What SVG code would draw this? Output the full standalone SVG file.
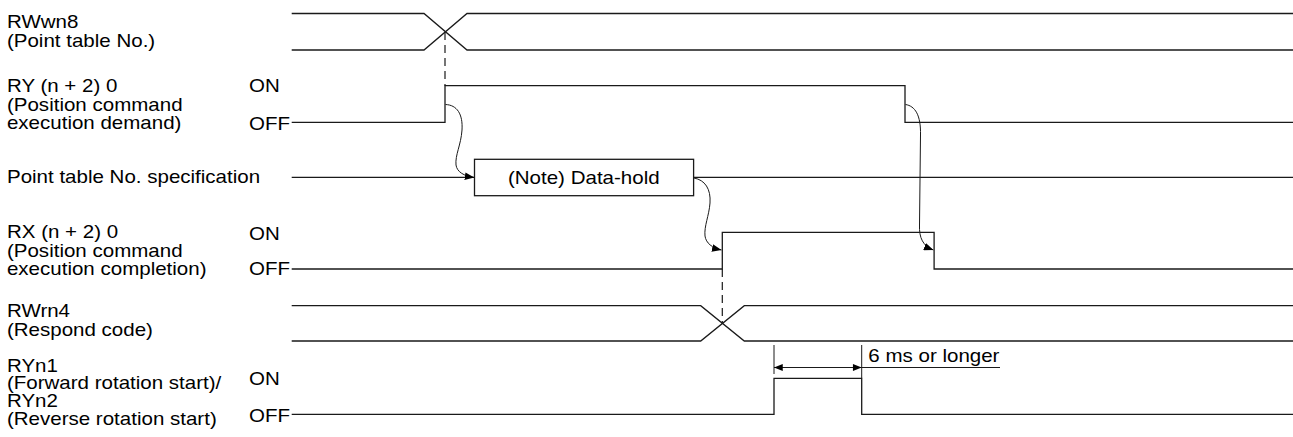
<svg xmlns="http://www.w3.org/2000/svg" width="1293" height="437" viewBox="0 0 1293 437">
<style>
.w{fill:none;stroke:#1a1a1a;stroke-width:1.3}
.d{fill:none;stroke:#1a1a1a;stroke-width:1.2;stroke-dasharray:8 5}
.c{fill:none;stroke:#1a1a1a;stroke-width:1}
.t{font-family:"Liberation Sans",Arial,sans-serif;font-size:18px;fill:#000}
</style>
<defs>
<marker id="ah" viewBox="0 0 10 8" refX="10" refY="4" markerWidth="9.5" markerHeight="8" markerUnits="userSpaceOnUse" orient="auto">
<path d="M0,0 L10,4 L0,8 Z" fill="#000"/>
</marker>
<marker id="dh" viewBox="0 0 10 8" refX="10" refY="4" markerWidth="10" markerHeight="7" markerUnits="userSpaceOnUse" orient="auto-start-reverse">
<path d="M0,0 L10,4 L0,8 Z" fill="#000"/>
</marker>
</defs>
<rect width="1293" height="437" fill="#fff"/>

<g id="rwwn8">
<path class="w" d="M291.7,13.5 H424 L467,50 H1293"/>
<path class="w" d="M291.7,50 H424 L467,13.5 H1293"/>
<g transform="scale(1.14 1)"><text class="t" x="6.1" y="28.3">RWwn8</text><text class="t" x="6.1" y="47">(Point table No.)</text></g>
</g>

<g id="ry-n2-0">
<path class="w" d="M291.7,122.3 H445 V85.7 H905 V122.3 H1293"/>
<g transform="scale(1.14 1)">
<text class="t" x="6.1" y="92.3">RY (n + 2) 0</text>
<text class="t" x="6.1" y="110.6">(Position command</text>
<text class="t" x="6.1" y="129.2">execution demand)</text>
<text class="t" x="218.4" y="92.5">ON</text>
<text class="t" x="218.4" y="130">OFF</text>
</g>
</g>

<g id="point-table-spec">
<path class="w" d="M291.7,177.3 H474.5 M693.6,177.3 H1293"/>
<rect class="w" x="474.5" y="159.3" width="219.1" height="36.4"/>
<g transform="scale(1.14 1)">
<text class="t" x="6.1" y="183.3">Point table No. specification</text>
<text class="t" x="512.1" y="184.3" text-anchor="middle">(Note) Data-hold</text>
</g>
</g>

<g id="rx-n2-0">
<path class="w" d="M291.7,269 H722.3 V232.3 H934.1 V269 H1293"/>
<g transform="scale(1.14 1)">
<text class="t" x="6.1" y="238.5">RX (n + 2) 0</text>
<text class="t" x="6.1" y="256.7">(Position command</text>
<text class="t" x="6.1" y="275">execution completion)</text>
<text class="t" x="218.4" y="240">ON</text>
<text class="t" x="218.4" y="275.5">OFF</text>
</g>
</g>

<g id="rwrn4">
<path class="w" d="M291.7,305.7 H700.7 L744.3,341 H1293"/>
<path class="w" d="M291.7,341 H700.7 L744.3,305.7 H1293"/>
<g transform="scale(1.14 1)"><text class="t" x="6.1" y="317.3">RWrn4</text><text class="t" x="6.1" y="336">(Respond code)</text></g>
</g>

<g id="ryn1-ryn2">
<path class="w" d="M291.7,414.3 H774 V378.3 H861.7 V414.3 H1293"/>
<g transform="scale(1.14 1)">
<text class="t" x="6.1" y="371.7">RYn1</text>
<text class="t" x="6.1" y="389.3">(Forward rotation start)/</text>
<text class="t" x="6.1" y="406.7">RYn2</text>
<text class="t" x="6.1" y="425">(Reverse rotation start)</text>
<text class="t" x="218.4" y="385">ON</text>
<text class="t" x="218.4" y="421.7">OFF</text>
</g>
</g>

<g id="dimension-6ms">
<path class="c" d="M774,345 V374 M861.7,345 V378.3 M861.7,367.5 H1000"/>
<path class="c" d="M774,367.5 H861.7" marker-start="url(#dh)" marker-end="url(#dh)"/>
<g transform="scale(1.14 1)"><text class="t" x="761.7" y="361.7">6 ms or longer</text></g>
</g>

<g id="connectors">
<path class="d" d="M445,32 V85.7"/>
<path class="d" d="M722.3,269 V323.3"/>
<path class="c" d="M445.5,104.5 C457,105 463,114 462,130 C461,145 455,155 456,165 C457,172 464,176 474.3,177.6" marker-end="url(#ah)"/>
<path class="c" d="M694,178 C705,180 711,189 710,203 C709,216 704,226 705,236 C706,243 712,248 721.5,250" marker-end="url(#ah)"/>
<path class="c" d="M905.5,104.5 C915,106 921,115 920.5,135 L919.5,225 C919,238 923,246 933.4,250" marker-end="url(#ah)"/>
</g>
</svg>
